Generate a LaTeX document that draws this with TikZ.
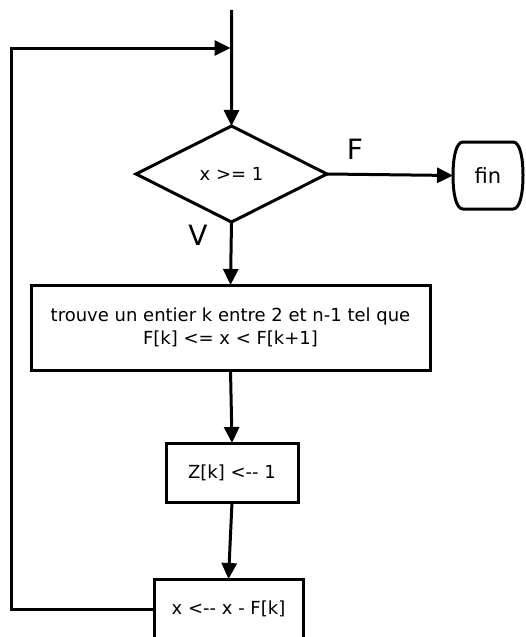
\documentclass[tikz,border=0pt]{standalone}
\usepackage{fontspec}
\setmainfont{DejaVu Sans}
\usetikzlibrary{arrows.meta,shapes.geometric,calc}

\begin{document}
\begin{tikzpicture}[x=1pt,y=-1pt,line width=3pt,
  txt/.style={font=\fontsize{18}{23}\selectfont,align=center,inner sep=0pt,outer sep=0pt},
  boxnode/.style={txt,draw,rectangle},
  testnode/.style={txt,draw,diamond},
  lbl/.style={font=\fontsize{28}{30}\selectfont,inner sep=0pt},
  flow/.style={-{Triangle[length=16pt,width=15pt]}}]

\useasboundingbox (0,0) rectangle (526,637);
\clip (0,0) rectangle (526,637);

% nodes of the flowchart
\node[testnode,minimum width=191pt,minimum height=96pt] (test) at (231.5,174) {x >= 1};
\node[txt,font=\fontsize{21}{23}\selectfont,minimum width=70pt,minimum height=67pt] (fin) at (488,175.5) {fin};
\node[boxnode,minimum width=399pt,minimum height=85pt] (find) at (230.5,327.5)
  {trouve un entier k entre 2 et n-1 tel que\\F[k] <= x < F[k+1]};
\node[boxnode,minimum width=132pt,minimum height=59pt] (setz) at (232,472.5) {Z[k] <-{}- 1};
\node[boxnode,minimum width=149pt,minimum height=60pt] (subx) at (228.5,609) {x <-{}- x - F[k]};

% terminal outline with bulging sides
\draw ($(fin.north west)+(10,0)$) -- ($(fin.north east)+(-10,0)$)
  .. controls +(7,0) and +(0,-18) .. (fin.east)
  .. controls +(0,18) and +(7,0) .. ($(fin.south east)+(-10,0)$)
  -- ($(fin.south west)+(10,0)$)
  .. controls +(-7,0) and +(0,18) .. (fin.west)
  .. controls +(0,-18) and +(-7,0) .. ($(fin.north west)+(10,0)$) -- cycle;

% entry and loop-back points
\coordinate (entry) at (231.7,10);
\coordinate (merge) at (230.5,48);
\coordinate (loopbl) at (11.5,609);
\coordinate (looptl) at (11.5,48);

% connectors
\draw[flow] (entry) -- (test.north);
\draw[flow] (test.east) -- (fin.west);
\draw[flow] (test.south) -- (find.north);
\draw[flow] (find.south) -- (setz.north);
\draw[flow] (setz.south) -- (subx.north);
\draw[flow] (subx.west) -- (loopbl) -- (looptl) -- (merge);

% branch labels
\node[lbl] (lf) at (355,149) {F};
\node[lbl] (lv) at (198,235) {V};
\end{tikzpicture}
\end{document}
